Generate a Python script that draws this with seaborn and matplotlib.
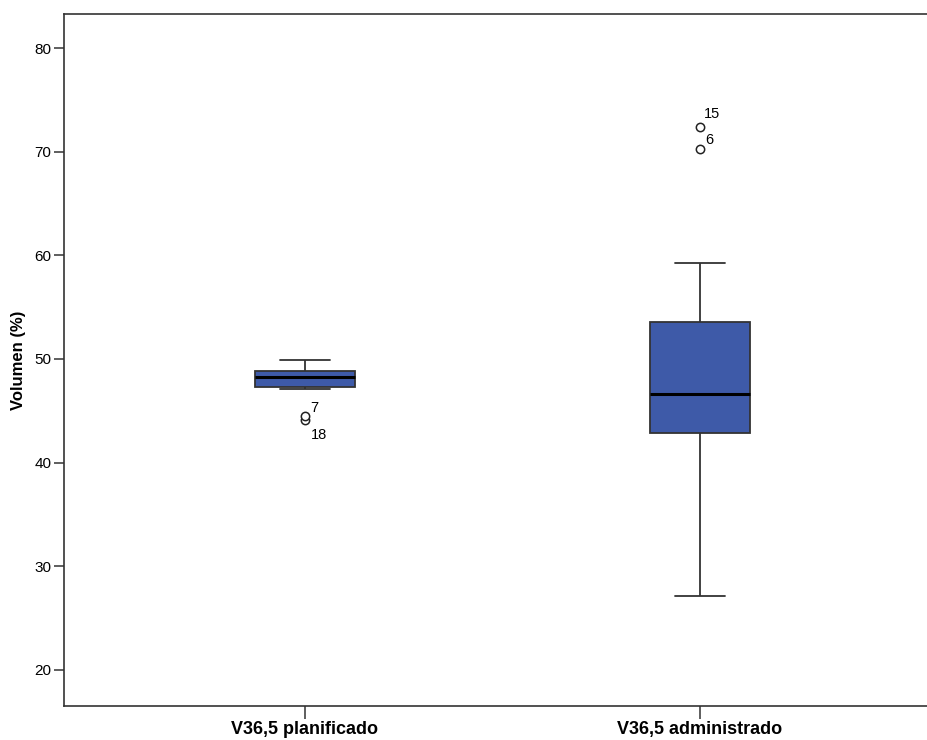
import numpy as np
import pandas as pd
import matplotlib
matplotlib.use("Agg")
import matplotlib.pyplot as plt
import seaborn as sns

# ---- data ----
categories = ["V36,5 planificado", "V36,5 administrado"]
whisker_low = [47.1, 27.1]
q1 = [47.3, 42.9]
median = [48.3, 46.6]
q3 = [48.8, 53.6]
whisker_high = [49.9, 59.3]
outliers = [[44.1, 44.5], [70.3, 72.4]]
outlier_labels = [["18", "7"], ["6", "15"]]

# build observations whose 1.5*IQR boxplot statistics equal the values above
# (13 values: quartiles at sorted positions 3, 6 and 9)
rows = []
for i, cat in enumerate(categories):
    low_out = [v for v in outliers[i] if v < q1[i]]
    high_out = [v for v in outliers[i] if v > q3[i]]
    vals = low_out + [whisker_low[i]] * (3 - len(low_out)) \
        + [q1[i]] * 3 + [median[i]] + [q3[i]] * 3 \
        + [whisker_high[i]] * (3 - len(high_out)) + high_out
    vals = sorted(vals)
    for v in vals:
        rows.append({"grupo": cat, "valor": v})
df = pd.DataFrame(rows)

sns.set_theme(style="white")
plt.rcParams["font.family"] = ["Liberation Sans", "DejaVu Sans"]
plt.rcParams["text.color"] = "black"
plt.rcParams["axes.labelcolor"] = "black"
plt.rcParams["xtick.color"] = "black"
plt.rcParams["ytick.color"] = "black"

fig = plt.figure(figsize=(9.27, 7.40), dpi=100)
ax = fig.add_axes([64 / 927, 34 / 740, 1 - 64 / 927, (706 - 14) / 740])

box_color = "#3E5AA8"
sns.boxplot(
    data=df, x="grupo", y="valor", order=categories, ax=ax,
    color=box_color, saturation=1, width=0.253, whis=1.5,
    linewidth=1.3, linecolor="#333333", fliersize=6,
    flierprops=dict(marker="o", markerfacecolor="white",
                    markeredgecolor="#222222", markeredgewidth=1.1),
    medianprops=dict(color="black", linewidth=2.2),
    boxprops=dict(edgecolor="#333333"),
)

# outlier case labels
offsets = {"7": (4, 6), "18": (4, -11), "15": (3, 9), "6": (4, 6)}
for i in range(len(categories)):
    for v, lab in zip(outliers[i], outlier_labels[i]):
        dx, dy = offsets[lab]
        ax.annotate(lab, xy=(i, v), xytext=(dx, dy), textcoords="offset points",
                    fontsize=10.5, color="black", ha="left", va="center")

ax.set_xlim(-0.61, 1.575)
ax.set_ylim(16.5, 83.3)
ax.set_yticks([20, 30, 40, 50, 60, 70, 80])
ax.set_xlabel("")
ax.set_ylabel("Volumen (%)", fontsize=12, fontweight="bold", labelpad=6)

for s in ["left", "bottom", "top"]:
    ax.spines[s].set_visible(True)
    ax.spines[s].set_color("#333333")
    ax.spines[s].set_linewidth(1.2)
ax.spines["right"].set_visible(False)

ax.tick_params(axis="y", direction="out", length=7, width=1.1, color="#333333",
               labelsize=11, left=True, pad=2, labelcolor="black")
ax.tick_params(axis="x", direction="out", length=9, width=1.1, color="#333333",
               labelsize=13, bottom=True, pad=2, labelcolor="black")
for t in ax.get_xticklabels():
    t.set_fontweight("bold")

fig.savefig("out.png", dpi=100, facecolor="white")
